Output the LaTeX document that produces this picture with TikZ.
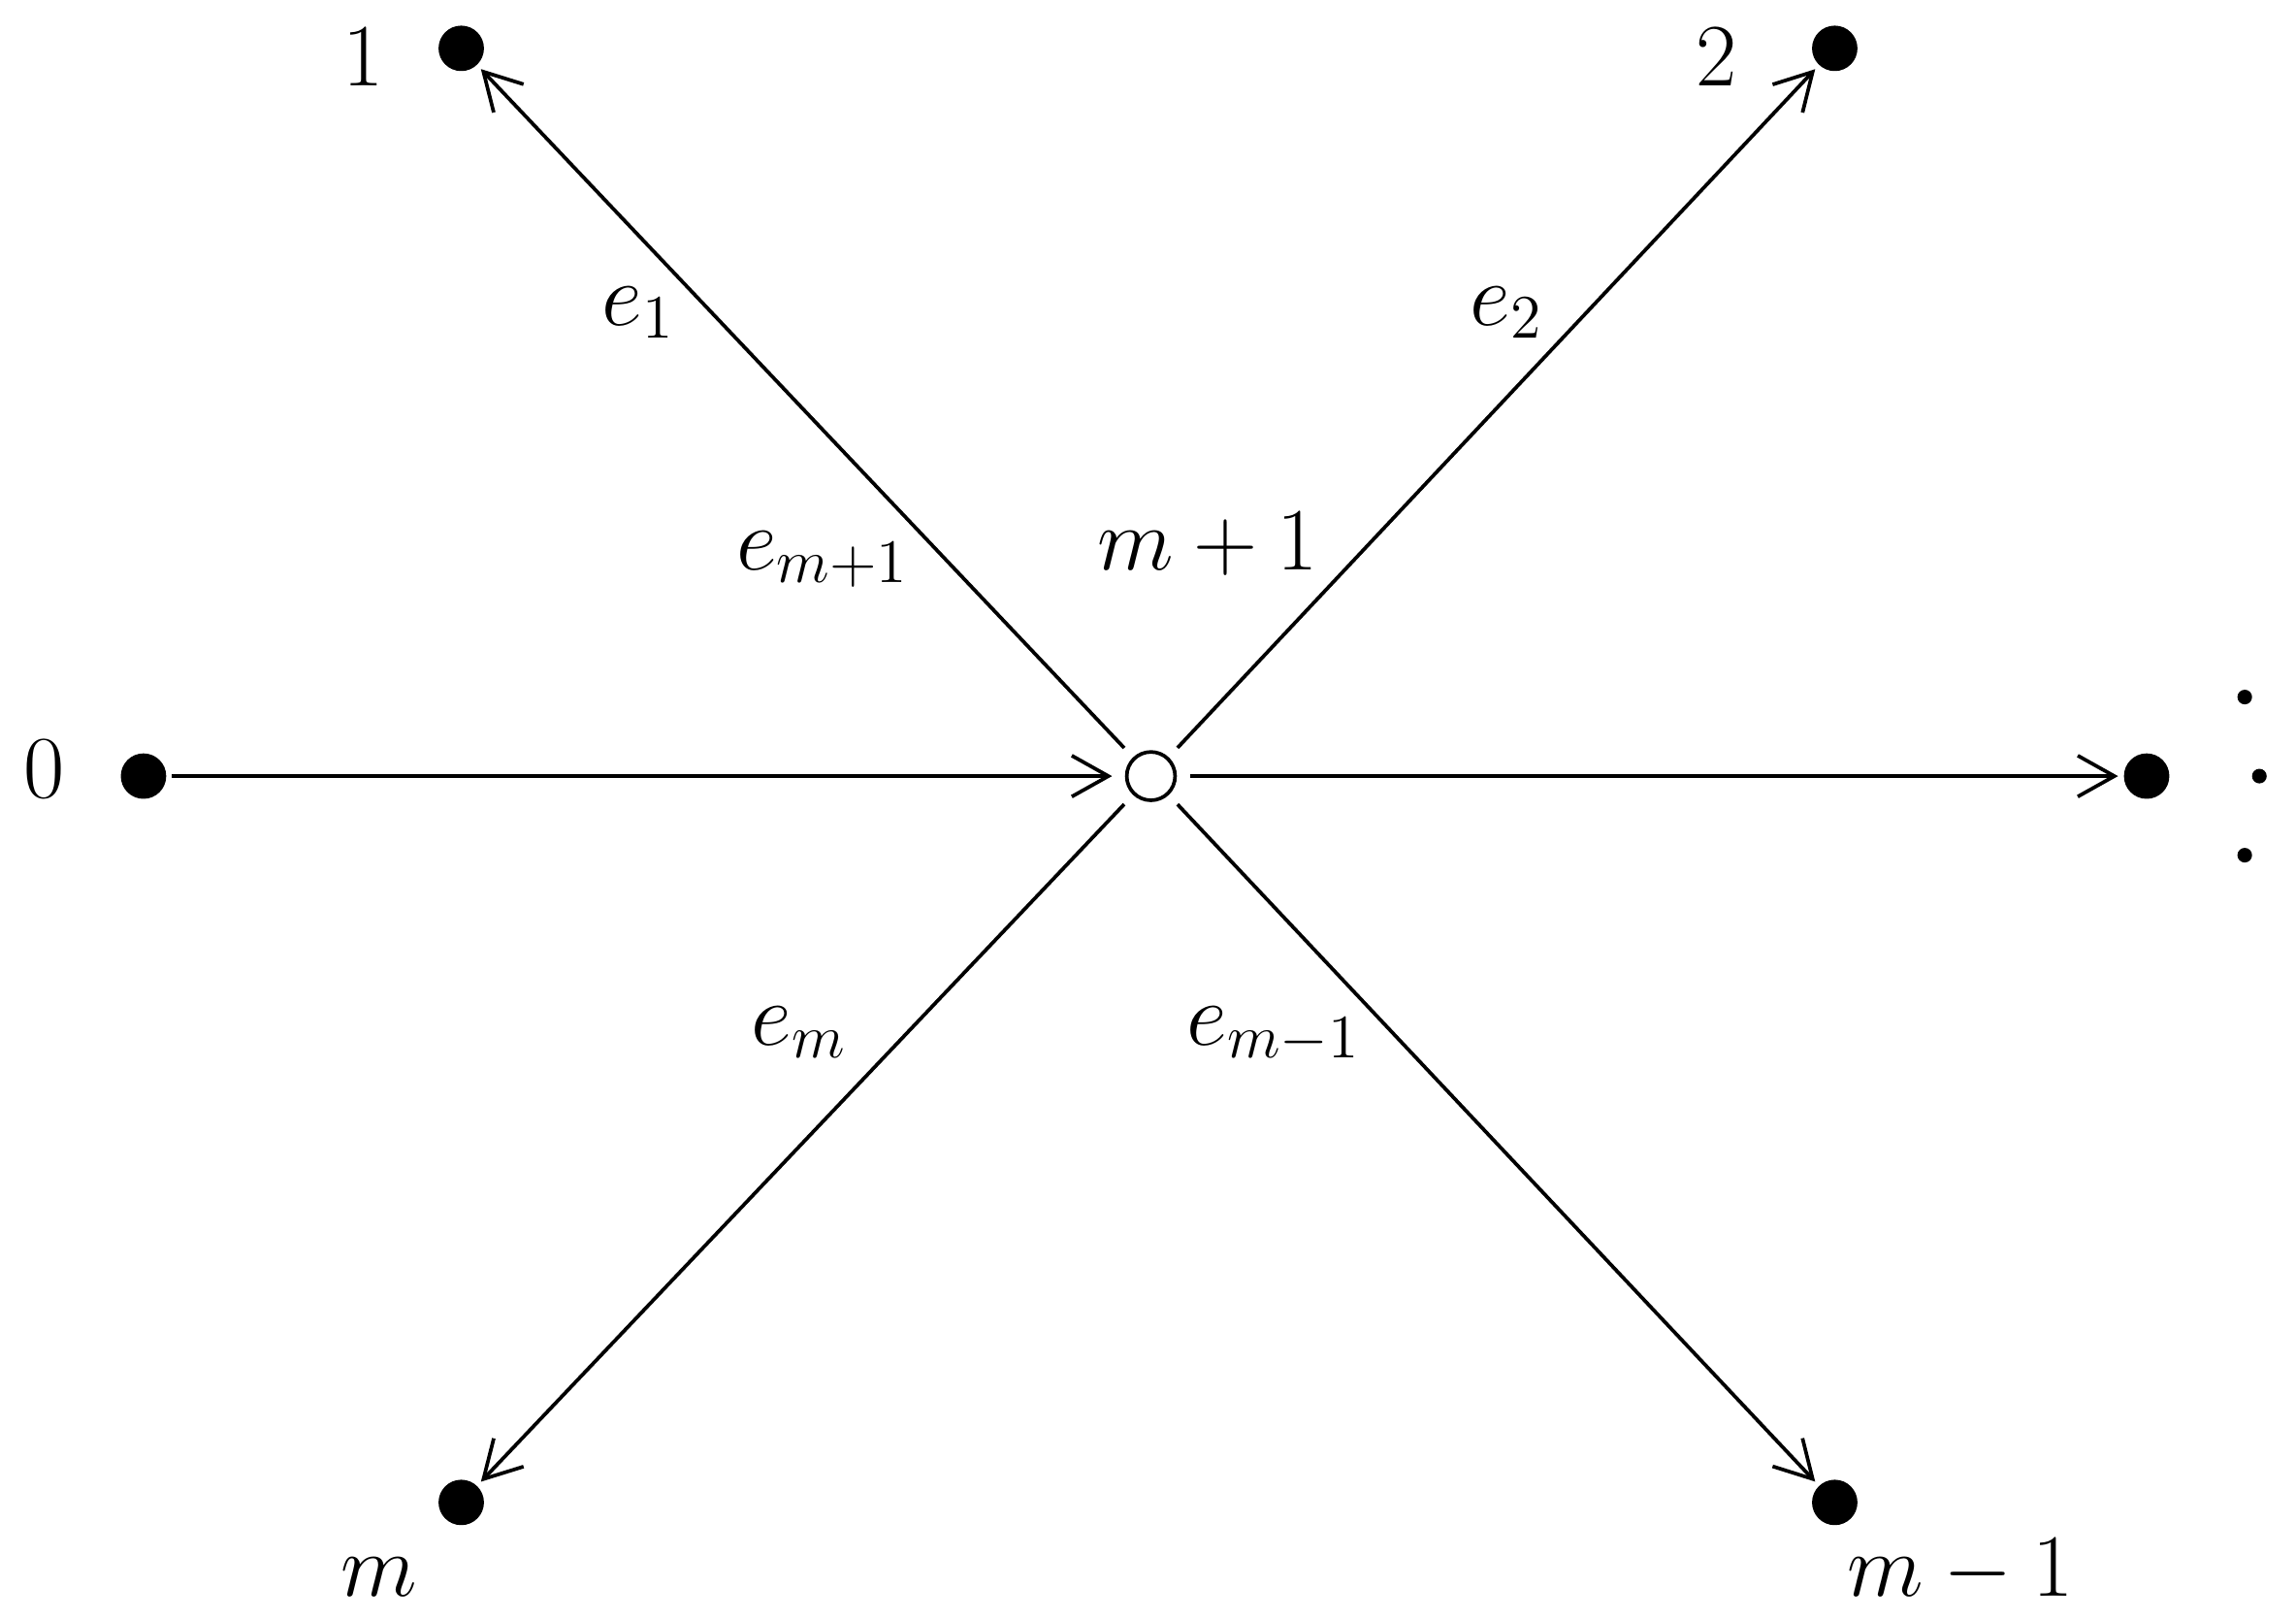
\documentclass[tikz,border=0pt]{standalone}
\usetikzlibrary{arrows.meta}
\tikzset{
  dotnode/.style={circle,fill=black,draw=none,minimum size=0.31cm,inner sep=0pt,outer sep=0.04cm},
  smalldot/.style={circle,fill=black,draw=none,minimum size=0.1cm,inner sep=0pt},
  hubnode/.style={circle,draw=black,line width=0.7pt,fill=white,minimum size=0.33cm,inner sep=0pt,outer sep=0.1cm},
  lbl/.style={anchor=base,inner sep=0pt,font=\LARGE},
  edgearrow/.style={line width=0.7pt,-{Straight Barb[length=0.25cm,width=0.28cm]}},
}
\begin{document}
\begin{tikzpicture}[x=0.01cm,y=-0.01cm]
\useasboundingbox (0,0) rectangle (1568,1105);
% nodes
\node[hubnode] (c) at (786,530) {};
\node[dotnode] (n0) at (98,530) {};
\node[dotnode] (n1) at (315,33) {};
\node[dotnode] (n2) at (1253,33) {};
\node[dotnode] (nr) at (1466,530) {};
\node[dotnode] (nm) at (315,1026) {};
\node[dotnode] (nm1) at (1253,1026) {};
\node[smalldot] (d1) at (1533,476) {};
\node[smalldot] (d2) at (1543,530) {};
\node[smalldot] (d3) at (1533,584) {};
% connectors
\draw[edgearrow] (n0) -- (c);
\draw[edgearrow] (c) -- (nr);
\draw[edgearrow] (c) -- (n1);
\draw[edgearrow] (c) -- (n2);
\draw[edgearrow] (c) -- (nm);
\draw[edgearrow] (c) -- (nm1);
% labels
\node[lbl] (l0) at (30,545) {$0$};
\node[lbl] (l1) at (248,58.6) {$1$};
\node[lbl] (l2) at (1172,58.6) {$2$};
\node[lbl] (lm) at (259,1090) {$m$};
\node[lbl] (lm1) at (1339,1090) {$m-1$};
\node[lbl] (le1) at (436,222) {$e_1$};
\node[lbl] (le2) at (1029,222) {$e_2$};
\node[lbl] (lem1) at (562,389) {$e_{m+1}$};
\node[lbl] (lmp1) at (825,389) {$m+1$};
\node[lbl] (lem) at (546,713.5) {$e_m$};
\node[lbl] (lemm1) at (870,713.5) {$e_{m-1}$};
\end{tikzpicture}
\end{document}
